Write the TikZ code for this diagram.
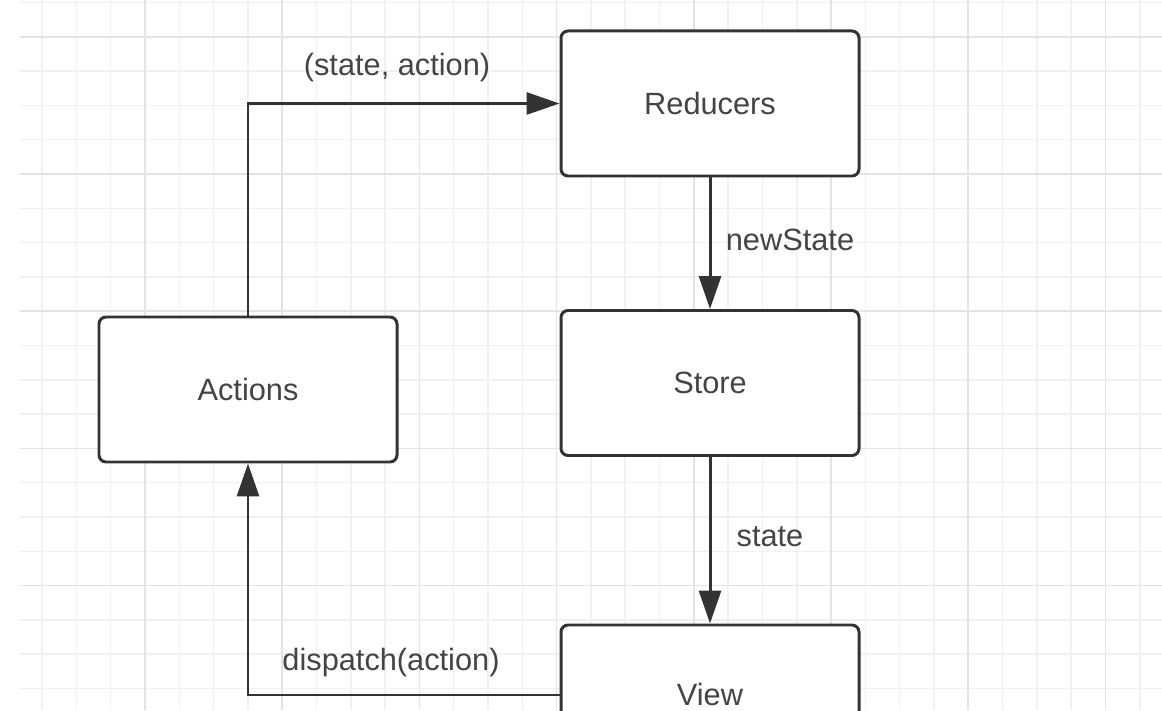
\documentclass[tikz,border=0pt]{standalone}
\usepackage{fontspec}
\setmainfont{Liberation Sans}
\usetikzlibrary{arrows.meta}
\definecolor{line-dark}{HTML}{333333}
\definecolor{text-gray}{HTML}{444444}
\definecolor{grid-fine}{HTML}{F1F1F1}
\definecolor{grid-major}{HTML}{E4E4E4}

\begin{document}
\begin{tikzpicture}[
      every node/.style={font=\fontsize{17.5}{21}\selectfont, text=text-gray},
      box/.style={draw=line-dark, line width=1.7pt, fill=white,
          rounded corners=4pt, minimum width=5.96cm, minimum height=2.9cm},
      flow/.style={draw=line-dark, line width=1.7pt,
          -{Triangle[length=0.66cm, width=0.44cm]}}]
    \useasboundingbox (0,0) rectangle (23.24,14.2);
    \clip (0,0) rectangle (23.24,14.2);
    % grid paper
    \begin{scope}
      \clip (0.4,0) rectangle (23.24,14.2);
      \foreach \i in {-4,...,30}
        \draw[grid-fine, line width=0.9pt] ({2.9+0.686*\i},0) -- ++(0,14.2);
      \foreach \j in {-16,...,6}
        \draw[grid-fine, line width=0.9pt] (0,{10.72+0.686*\j}) -- ++(23.24,0);
      \foreach \i in {-1,...,7}
        \draw[grid-major, line width=0.9pt] ({2.9+2.744*\i},0) -- ++(0,14.2);
      \foreach \j in {-4,...,2}
        \draw[grid-major, line width=0.9pt] (0,{10.72+2.744*\j}) -- ++(23.24,0);
    \end{scope}
    \node[box] (RED) at (14.2,12.13) {Reducers};
    \node[box] (STO) at (14.2,6.54) {Store};
    \node[box] (ACT) at (4.96,6.41) {Actions};
    \node[box, minimum height=2.8cm] (VIEW) at (14.2,0.3) {View};
    \draw[flow] (ACT.north) |- (RED.west);
    \draw[flow] (RED.south) -- (STO.north);
    \draw[flow] (STO.south) -- (VIEW.north);
    \draw[flow] (VIEW.west) -| (ACT.south);
    \node at (7.94,12.84) {(state, action)};
    \node at (15.8,9.4) {newState};
    \node at (15.4,3.46) {state};
    \node at (7.82,0.94) {dispatch(action)};
  \end{tikzpicture}
\end{document}
